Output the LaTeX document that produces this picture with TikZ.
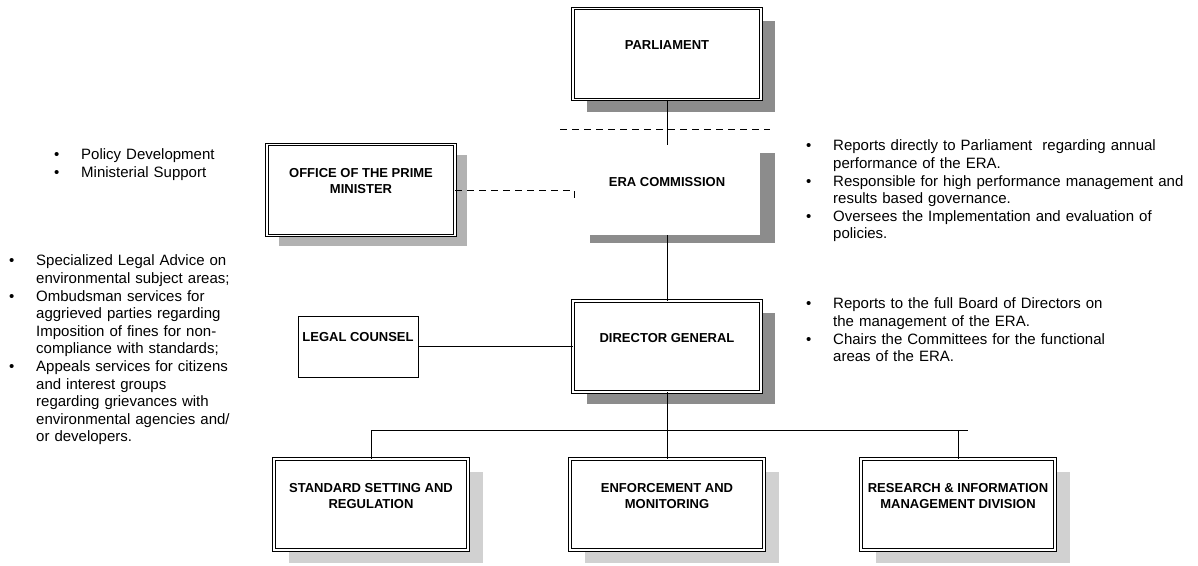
\documentclass[tikz,border=0pt]{standalone}
\usepackage{fontspec}
\setmainfont{Liberation Sans}
\usetikzlibrary{positioning,shadows,calc}

\newcommand\bul[1]{\par\noindent\hangindent=27pt\hangafter=1\makebox[27pt][l]{\textbullet}#1\par}

\begin{document}
\begin{tikzpicture}[x=1pt,y=-1pt,
    box/.style={draw,double,double distance=1.6pt,line width=0.8pt,fill=white,minimum width=188pt,minimum height=91pt},
    darkbox/.style={box,drop shadow={shadow xshift=14pt,shadow yshift=-12pt,fill=black!45,opacity=1}},
    midbox/.style={box,drop shadow={shadow xshift=12pt,shadow yshift=-10pt,fill=black!30,opacity=1}},
    lowbox/.style={box,minimum width=194pt,drop shadow={shadow xshift=15pt,shadow yshift=-13pt,fill=black!18,opacity=1}},
    plainbox/.style={fill=white,minimum width=185pt,minimum height=90pt,drop shadow={shadow xshift=15pt,shadow yshift=-8pt,fill=black!45,opacity=1}},
    smallbox/.style={draw,line width=1pt,minimum width=120pt,minimum height=61pt},
    tag/.style={font=\fontsize{13}{16}\selectfont\bfseries,align=center,inner sep=0pt},
    note/.style={font=\fontsize{15}{17.6}\selectfont,align=left,anchor=north west,inner sep=0pt,text width=#1},
    dashline/.style={line width=1pt,dash pattern=on 7pt off 5pt},
    node distance=150pt
    ]
    \useasboundingbox (0,0) rectangle (1198,565);

    % the boxes
    \node (parl) [darkbox] at (667,54) {};
    \node (era) [plainbox,below of=parl,node distance=136pt] {};
    \node (opm) [midbox,left of=era,node distance=306pt] {};
    \node (dg) [darkbox,below of=era,node distance=156.5pt] {};
    \node (legal) [smallbox,left of=dg,node distance=309pt] {};
    \node (enf) [lowbox,below of=dg,node distance=158pt] {};
    \node (std) [lowbox,left of=enf,node distance=296pt] {};
    \node (res) [lowbox,right of=enf,node distance=291pt] {};

    % the box texts
    \node (parlT) [tag] at ([yshift=-37pt]parl.north) {PARLIAMENT};
    \node (eraT) [tag] at ([yshift=-37pt]era.north) {ERA COMMISSION};
    \node (opmT) [tag] at ([yshift=-37pt]opm.north) {OFFICE OF THE PRIME\\MINISTER};
    \node (dgT) [tag] at ([yshift=-37pt]dg.north) {DIRECTOR GENERAL};
    \node (legalT) [tag] at ([yshift=-22pt]legal.north) {LEGAL COUNSEL};
    \node (stdT) [tag] at ([yshift=-37pt]std.north) {STANDARD SETTING AND\\REGULATION};
    \node (enfT) [tag] at ([yshift=-37pt]enf.north) {ENFORCEMENT AND\\MONITORING};
    \node (resT) [tag] at ([yshift=-37pt]res.north) {RESEARCH \& INFORMATION\\MANAGEMENT DIVISION};

    % the edges
    \draw[dashline] (560,129) -- (770,129);
    \draw[line width=1pt] (parl.south) -- (era.north);
    \draw[dashline] (opm.east) -| ($(era.west)+(0,13)$);
    \draw[line width=1pt] (era.south) -- (dg.north);
    \draw[line width=1pt] (legal.east) -- (legal.east -| dg.west);
    \draw[line width=1pt] (dg.south) -- (enf.north);
    \draw[line width=1pt] (std.north) |- ($(res.north)+(10,-28)$);
    \draw[line width=1pt] (res.north) -- +(0,-28);

    % the notes
    \node (opmN) [note=220pt] at (54,142) {\bul{Policy Development}\bul{Ministerial Support}};
    \node (legalN) [note=260pt] at (9,248) {%
      \bul{Specialized Legal Advice on\newline environmental subject areas;}%
      \bul{Ombudsman services for\newline aggrieved parties regarding\newline Imposition of fines for non-\newline compliance with standards;}%
      \bul{Appeals services for citizens\newline and interest groups\newline regarding grievances with\newline environmental agencies and/\newline or developers.}};
    \node (eraN) [note=390pt] at (806,133) {%
      \bul{Reports directly to Parliament~ regarding annual\newline performance of the ERA.}%
      \bul{Responsible for high performance management and\newline results based governance.}%
      \bul{Oversees the Implementation and evaluation of\newline policies.}};
    \node (dgN) [note=390pt] at (806,291) {%
      \bul{Reports to the full Board of Directors on\newline the management of the ERA.}%
      \bul{Chairs the Committees for the functional\newline areas of the ERA.}};
\end{tikzpicture}
\end{document}
